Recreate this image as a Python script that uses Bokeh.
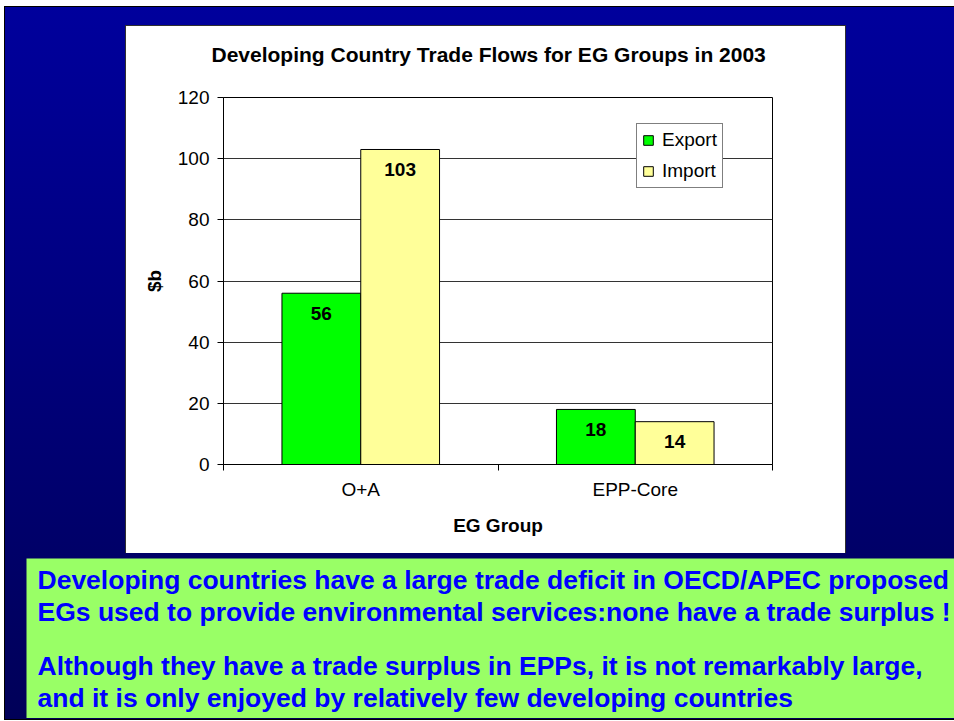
import numpy as np
from bokeh.plotting import figure
from bokeh.layouts import column
from bokeh.models import (ColumnDataSource, FixedTicker, Label, LabelSet, Legend,
                          LegendItem, Range1d)
from bokeh.core.properties import value
from bokeh.embed import file_html
from bokeh.resources import INLINE

# ---------------- data ----------------
title_text = "Developing Country Trade Flows for EG Groups in 2003"
categories = ["O+A", "EPP-Core"]
series_names = ["Export", "Import"]
export_values = [56, 18]
import_values = [103, 14]
y_ticks = [0, 20, 40, 60, 80, 100, 120]
x_axis_title = "EG Group"
y_axis_title = "$b"
notes = [
    "Developing countries have a large trade deficit in OECD/APEC proposed",
    "EGs used to provide environmental services:none have a trade surplus !",
    "Although they have a trade surplus in EPPs, it is not remarkably large,",
    "and it is only enjoyed by relatively few developing countries",
]

# ---------------- layout constants ----------------
W, H = 954, 721
CHART_H = 553
FONT = "Liberation Sans"
EXPORT_COLOR = "#00ff00"
IMPORT_COLOR = "#ffff99"

# ---------------- chart ----------------
panel_css = ("linear-gradient(#ffffff,#ffffff) 126px 26px / 719px 527px no-repeat, "
             "linear-gradient(#303030,#303030) 125px 25px / 721px 529px no-repeat")
p = figure(width=W, height=CHART_H, output_backend="svg", toolbar_location=None,
           x_range=Range1d(0, len(categories)),
           y_range=Range1d(y_ticks[0], y_ticks[-1]),
           min_border_left=223, min_border_right=182,
           min_border_top=97, min_border_bottom=89,
           border_fill_alpha=0, background_fill_color="white",
           outline_line_color="black", outline_line_width=1,
           styles={"background": panel_css})
p.frame_align = False

centers = np.arange(len(categories)) + 0.5
bar_w = 0.287
src_e = ColumnDataSource(dict(x=centers - bar_w / 2, top=export_values,
                              label=[str(v) for v in export_values]))
src_i = ColumnDataSource(dict(x=centers + bar_w / 2, top=import_values,
                              label=[str(v) for v in import_values]))
r_e = p.vbar(x="x", top="top", bottom=0, width=bar_w, source=src_e,
             fill_color=EXPORT_COLOR, line_color="black", line_width=1)
r_i = p.vbar(x="x", top="top", bottom=0, width=bar_w, source=src_i,
             fill_color=IMPORT_COLOR, line_color="black", line_width=1)

for src in (src_e, src_i):
    p.add_layout(LabelSet(x="x", y="top", text="label", source=src,
                          y_offset=-20, text_align="center", text_baseline="middle",
                          text_font=value(FONT), text_font_size="19px",
                          text_font_style="bold", text_color="black"))

xa = p.xaxis[0]
xa.ticker = FixedTicker(ticks=list(centers), minor_ticks=list(range(len(categories) + 1)))
xa.major_label_overrides = {float(c): cat for c, cat in zip(centers, categories)}
xa.major_tick_line_color = None
xa.minor_tick_line_color = "black"
xa.minor_tick_out = 6
xa.minor_tick_in = 0
xa.axis_line_color = "black"
xa.major_label_text_font = FONT
xa.major_label_text_font_size = "19px"
xa.major_label_text_color = "black"
xa.major_label_standoff = 8
xa.axis_label = x_axis_title
xa.axis_label_text_font = FONT
xa.axis_label_text_font_size = "19px"
xa.axis_label_text_font_style = "bold"
xa.axis_label_text_color = "black"
xa.axis_label_standoff = 12

ya = p.yaxis[0]
ya.ticker = FixedTicker(ticks=y_ticks)
ya.major_tick_out = 6
ya.major_tick_in = 0
ya.major_tick_line_color = "black"
ya.minor_tick_line_color = None
ya.axis_line_color = "black"
ya.major_label_text_font = FONT
ya.major_label_text_font_size = "19px"
ya.major_label_text_color = "black"
ya.major_label_standoff = 8
ya.axis_label = y_axis_title
ya.axis_label_text_font = FONT
ya.axis_label_text_font_size = "19px"
ya.axis_label_text_font_style = "bold"
ya.axis_label_text_color = "black"
ya.axis_label_standoff = 10

p.xgrid.visible = False
p.ygrid.ticker = FixedTicker(ticks=y_ticks)
p.ygrid.grid_line_color = "#333333"
p.ygrid.grid_line_width = 1

p.title.text = title_text
p.title.align = "left"
p.title.offset = -12
p.title.text_font = FONT
p.title.text_font_size = "21px"
p.title.text_font_style = "bold"
p.title.text_color = "black"
p.title.standoff = 64

legend = Legend(items=[LegendItem(label=series_names[0], renderers=[r_e]),
                       LegendItem(label=series_names[1], renderers=[r_i])],
                location=(413, 276),
                orientation="vertical",
                background_fill_color="white", background_fill_alpha=1,
                border_line_color="black", border_line_width=1,
                label_text_font=FONT, label_text_font_size="19px",
                label_text_color="black",
                glyph_width=12, glyph_height=12, label_standoff=8,
                label_height=22, padding=5, spacing=9, margin=0)
p.add_layout(legend)

# ---------------- note box ----------------
NOTE_W, NOTE_H = 928, 160
q = figure(width=NOTE_W, height=NOTE_H, output_backend="svg", toolbar_location=None,
           x_range=Range1d(0, NOTE_W), y_range=Range1d(0, NOTE_H),
           x_axis_location=None, y_axis_location=None,
           min_border=0, min_border_left=0, min_border_right=0,
           min_border_top=0, min_border_bottom=0,
           background_fill_color="#99ff66", border_fill_color="#99ff66",
           outline_line_color=None, margin=(5, 0, 0, 26))
q.frame_align = False
q.xgrid.visible = False
q.ygrid.visible = False

note_baselines = [139, 107, 53, 21]   # screen pixels above the box bottom
for txt, base in zip(notes, note_baselines):
    q.add_layout(Label(x=11, y=base, x_units="screen", y_units="screen",
                       text=txt, text_font=FONT, text_font_size="26.5px",
                       text_font_style="bold", text_color="#0000ff",
                       text_align="left", text_baseline="alphabetic"))

slide_css = ("linear-gradient(to bottom, #00009c 0%, #000058 100%) 5px 7px / 949px 712px no-repeat, "
             "linear-gradient(#000000,#000000) 4px 6px / 950px 714px no-repeat, #ffffff")
slide = column(p, q, width=W, height=H, spacing=0, styles={"background": slide_css})

open("out.html", "w").write(file_html(slide, INLINE))
